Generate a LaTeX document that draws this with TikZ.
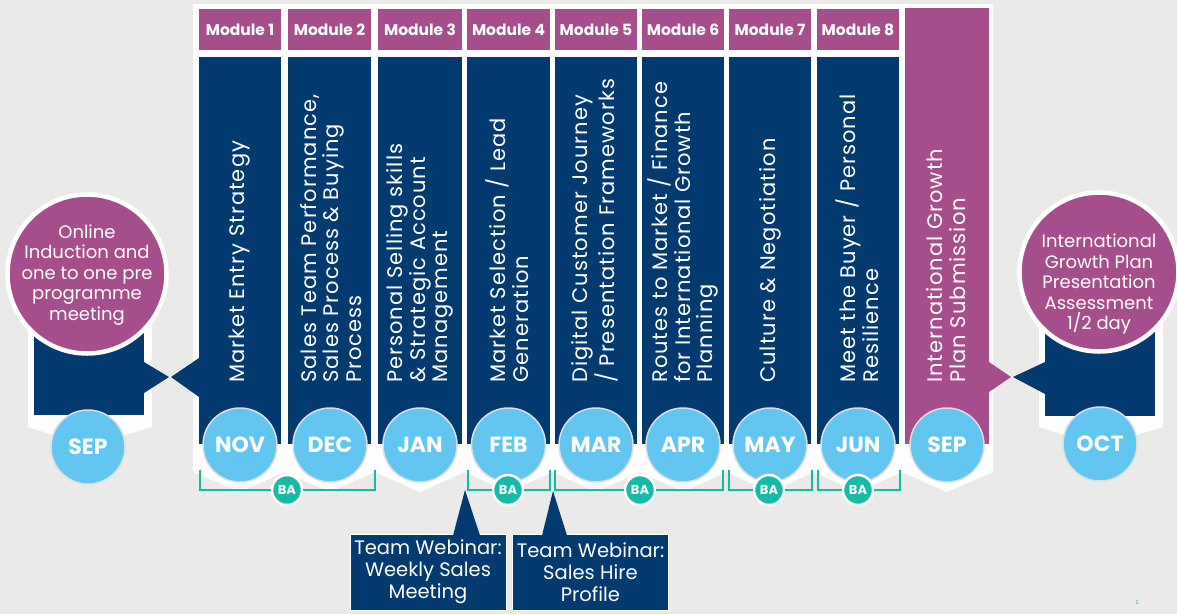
\documentclass[tikz,border=0pt]{standalone}
\usepackage{fontspec}
\setmainfont{Poppins}
\usetikzlibrary{positioning}

\definecolor{paper}{HTML}{EAEAE8}
\definecolor{navy}{HTML}{033A6F}
\definecolor{plum}{HTML}{A64D8B}
\definecolor{sky}{HTML}{62C6F1}
\definecolor{ring}{HTML}{DEDEDE}
\definecolor{mint}{HTML}{17B9A7}

\tikzset{
    modlabel/.style={
        fill=plum,
        text=white,
        minimum height=41pt,
        inner sep=0pt,
        font=\bfseries\fontsize{15.5}{15.5}\selectfont
    },
    coltext/.style={
        rotate=90,
        anchor=west,
        align=left,
        text=white,
        inner sep=0pt,
        font=\fontsize{21}{22.5}\selectfont\addfontfeature{LetterSpace=5}
    },
    month/.style={
        circle,
        fill=sky,
        draw=ring,
        line width=1.5pt,
        minimum size=74pt,
        inner sep=0pt,
        text=white,
        font=\bfseries\fontsize{22}{22}\selectfont
    },
    bigcircle/.style={
        circle,
        fill=plum,
        draw=white,
        line width=4.5pt,
        minimum size=159pt,
        inner sep=0pt
    },
    circtext/.style={
        align=center,
        text=white,
        inner sep=0pt,
        font=\fontsize{18}{20.5}\selectfont
    },
    ba/.style={
        circle,
        fill=mint,
        draw=white,
        line width=2.5pt,
        minimum size=30pt,
        inner sep=0pt,
        text=white,
        font=\bfseries\fontsize{13}{13}\selectfont
    },
    bracket/.style={
        draw=mint,
        line width=2.8pt
    },
    webinar/.style={
        fill=navy,
        draw=white,
        line width=1pt,
        minimum width=156pt,
        minimum height=76pt,
        inner sep=0pt,
        align=center,
        text=white,
        font=\fontsize{19.5}{22}\selectfont
    }
}

\begin{document}
\begin{tikzpicture}[x=1pt, y=-1pt]

    % Fondo
    \fill[paper] (0,0) rectangle (1177,614);
    \useasboundingbox (0,0) rectangle (1177,614);

    % Paneles blancos con puntas
    \fill[white] (193,4) -- (993,4) -- (993,472)
        -- (947,492) -- (902,472) -- (858,492) -- (814,472)
        -- (770,492) -- (726.5,472) -- (683,492) -- (640,472)
        -- (596,492) -- (552.5,472) -- (508.5,492) -- (464.5,472)
        -- (420,492) -- (374.5,472) -- (330,492) -- (284.5,472)
        -- (240,492) -- (193,472) -- cycle;
    \fill[white] (28,300) -- (152,300) -- (152,427) -- (88,446) -- (28,427) -- cycle;
    \fill[white] (1039,300) -- (1163,300) -- (1163,427) -- (1100,446) -- (1039,427) -- cycle;

    % Bloques laterales
    \fill[navy] (34,300) rectangle (144,415);
    \fill[navy] (1045,300) rectangle (1155,416);

    % Uniones
    \fill[navy] (144,362) -- (169,377) -- (144,393) -- cycle;
    \fill[navy] (171,377) -- (199,358) -- (199,397) -- cycle;
    \fill[plum] (989,362) -- (1011,377) -- (989,392) -- cycle;
    \fill[navy] (1013,377) -- (1045,362) -- (1045,394) -- cycle;

    % Columnas y modulos
    \foreach \n/\l/\r in {1/199/281, 2/288/371, 3/378/462, 4/467/550,
                          5/555/637, 6/642/724, 7/729/811, 8/817/899} {
        \fill[navy] (\l,57) rectangle (\r,444);
        \node[modlabel, minimum width={\r-\l}] (mod\n) at ({(\l+\r)/2},29.5) {Module \n};
    }
    \fill[plum] (905,8) rectangle (989,444);

    % Textos verticales
    \foreach \c/\txt [count=\n] in {
        240/{Market Entry Strategy},
        331/{Sales Team Performance,\\Sales Process \& Buying\\Process},
        420/{Personal Selling skills\\\& Strategic Account\\Management},
        507/{Market Selection / Lead\\Generation},
        595/{Digital Customer Journey\\/ Presentation Frameworks},
        683/{Routes to Market / Finance\\for International Growth\\Planning},
        770/{Culture \& Negotiation},
        857/{Meet the Buyer / Personal\\Resilience},
        946/{International Growth\\Plan Submission}} {
        \node[coltext] (txt\n) at (\c,383) {\txt};
    }

    % Circulos grandes
    \node[bigcircle] (induct) at (87,274) {};
    \node[circtext]  (inducttxt) at (87,275) {Online\\Induction and\\one to one pre\\programme\\meeting};
    \node[bigcircle] (assess) at (1099,272) {};
    \node[circtext]  (assesstxt) at (1099,284) {International\\Growth Plan\\Presentation\\Assessment\\1/2 day};

    % Meses
    \node[month] (sepa) at (88,447)    {SEP};
    \node[month] (nov)  at (240,445)   {NOV};
    \node[month] (dec)  at (330,445)   {DEC};
    \node[month] (jan)  at (420,445)   {JAN};
    \node[month] (feb)  at (508.5,445) {FEB};
    \node[month] (mar)  at (596,445)   {MAR};
    \node[month] (apr)  at (683,445)   {APR};
    \node[month] (may)  at (770,445)   {MAY};
    \node[month] (jun)  at (858,445)   {JUN};
    \node[month] (sepb) at (947,445)   {SEP};
    \node[month] (oct)  at (1100,444)  {OCT};

    % Corchetes BA
    \node[ba] (ba1) at (287,490) {BA};
    \node[ba] (ba2) at (508,490) {BA};
    \node[ba] (ba3) at (640,490) {BA};
    \node[ba] (ba4) at (769,490) {BA};
    \node[ba] (ba5) at (858,490) {BA};

    \coordinate (br1a) at (200,470);  \coordinate (br1b) at (375,470);
    \coordinate (br2a) at (468,470);  \coordinate (br2b) at (550,470);
    \coordinate (br3a) at (555,470);  \coordinate (br3b) at (723,470);
    \coordinate (br4a) at (729,470);  \coordinate (br4b) at (812,470);
    \coordinate (br5a) at (818,470);  \coordinate (br5b) at (900,470);

    \draw[bracket] (br1a) |- (ba1) -| (br1b);
    \draw[bracket] (br2a) |- (ba2) -| (br2b);
    \draw[bracket] (br3a) |- (ba3) -| (br3b);
    \draw[bracket] (br4a) |- (ba4) -| (br4b);
    \draw[bracket] (br5a) |- (ba5) -| (br5b);

    % Webinars
    \node[webinar] (web1) at (428,572)   {Team Webinar:\\Weekly Sales\\Meeting};
    \node[webinar] (web2) at (590.5,572) {Team Webinar:\\Sales Hire\\Profile};

    \coordinate (tip1) at (465,490);
    \coordinate (tip2) at (553,491);
    \fill[navy] (tip1) -- ([xshift=25pt, yshift=-2pt]web1.north) -- ([xshift=52pt, yshift=-2pt]web1.north) -- cycle;
    \fill[navy] (tip2) -- ([xshift=-48.5pt, yshift=-2pt]web2.north) -- ([xshift=-23.5pt, yshift=-2pt]web2.north) -- cycle;

    % Pagina
    \node[text=mint, inner sep=0pt, font=\fontsize{5}{5}\selectfont] (pgnum) at (1137,603) {2};

\end{tikzpicture}
\end{document}
